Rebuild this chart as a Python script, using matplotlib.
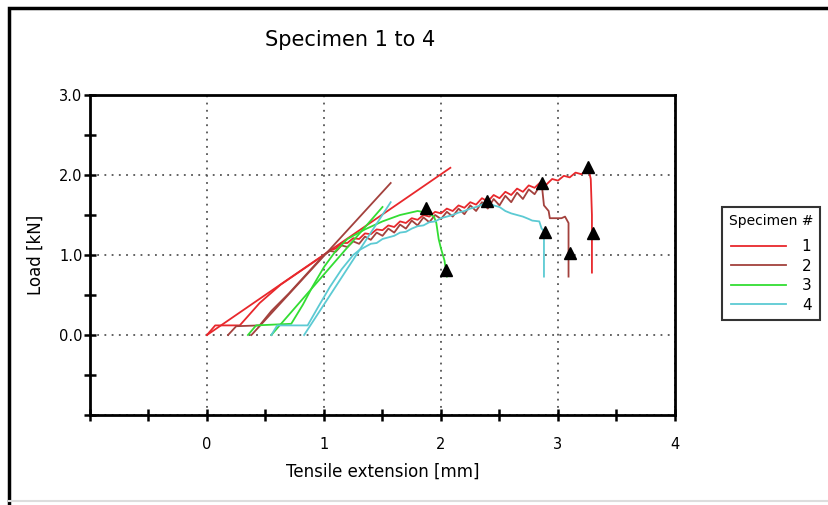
import matplotlib
matplotlib.use("Agg")
import matplotlib.pyplot as plt
from matplotlib.patches import Rectangle
from matplotlib.lines import Line2D

# ---------------- data ----------------
title = "Specimen 1 to 4"
xlabel = "Tensile extension [mm]"
ylabel = "Load [kN]"
legend_title = "Specimen #"
labels = ["1", "2", "3", "4"]
colors = ["#e8282c", "#a3413d", "#33dd33", "#5ccad3"]

x_ticklabels = ["0", "1", "2", "3", "4"]
y_ticklabels = ["0.0", "1.0", "2.0", "3.0"]

# Specimen 1 (red)
s1_x = [0.00, 0.07, 0.28, 0.45, 0.63, 0.80, 0.90, 1.00,
        1.05, 1.10, 1.15, 1.20, 1.25, 1.30, 1.35, 1.40, 1.45, 1.50, 1.55, 1.60, 1.65, 1.70,
        1.75, 1.80, 1.85, 1.90, 1.95, 2.00, 2.05, 2.10, 2.15, 2.20, 2.25, 2.30, 2.35, 2.40,
        2.45, 2.50, 2.55, 2.60, 2.65, 2.70, 2.75, 2.80, 2.85, 2.90, 2.95, 3.00, 3.05, 3.10,
        3.15, 3.20, 3.26, 3.28, 3.29, 3.29]
s1_y = [0.00, 0.12, 0.12, 0.40, 0.63, 0.80, 0.90, 1.00,
        1.06, 1.08, 1.15, 1.15, 1.21, 1.20, 1.27, 1.26, 1.32, 1.31, 1.37, 1.35, 1.42, 1.40,
        1.46, 1.44, 1.50, 1.48, 1.54, 1.52, 1.58, 1.55, 1.62, 1.59, 1.66, 1.63, 1.71, 1.67,
        1.75, 1.71, 1.79, 1.75, 1.83, 1.79, 1.87, 1.84, 1.91, 1.88, 1.95, 1.93, 1.99, 1.97,
        2.03, 2.01, 2.08, 1.95, 1.50, 0.78]
s1_fit_x = [0.00, 2.08]
s1_fit_y = [0.00, 2.09]

# Specimen 2 (dark red)
s2_x = [0.18, 0.25, 0.45, 0.55, 0.70, 0.85, 0.95, 1.00,
        1.05, 1.10, 1.15, 1.20, 1.25, 1.30, 1.35, 1.40, 1.45, 1.50, 1.55, 1.60, 1.65, 1.70,
        1.75, 1.80, 1.85, 1.90, 1.95, 2.00, 2.05, 2.10, 2.15, 2.20, 2.25, 2.30, 2.35, 2.40,
        2.45, 2.50, 2.55, 2.60, 2.65, 2.70, 2.75, 2.80, 2.86, 2.88, 2.92, 2.93, 3.03, 3.06,
        3.09, 3.09]
s2_y = [0.00, 0.11, 0.12, 0.30, 0.52, 0.76, 0.92, 1.00,
        1.05, 1.04, 1.12, 1.10, 1.17, 1.14, 1.23, 1.19, 1.28, 1.24, 1.33, 1.28, 1.38, 1.33,
        1.43, 1.37, 1.47, 1.41, 1.50, 1.45, 1.54, 1.48, 1.58, 1.51, 1.62, 1.55, 1.66, 1.58,
        1.70, 1.62, 1.74, 1.66, 1.78, 1.70, 1.82, 1.76, 1.90, 1.62, 1.55, 1.46, 1.46, 1.48,
        1.40, 0.73]
s2_fit_x = [0.38, 1.57]
s2_fit_y = [0.00, 1.90]

# Specimen 3 (green)
s3_x = [0.35, 0.42, 0.72, 0.82, 0.90, 1.00, 1.10, 1.20, 1.35, 1.50, 1.65, 1.80, 1.88,
        1.94, 1.96, 1.98, 2.00, 2.03, 2.05]
s3_y = [0.00, 0.12, 0.14, 0.38, 0.60, 0.85, 1.05, 1.20, 1.32, 1.42, 1.50, 1.55, 1.53,
        1.48, 1.40, 1.20, 1.08, 0.93, 0.73]
s3_fit_x = [0.55, 1.50]
s3_fit_y = [0.00, 1.60]

# Specimen 4 (cyan)
s4_x = [0.55, 0.60, 0.86, 0.95, 1.05, 1.15, 1.25, 1.30, 1.35, 1.40, 1.45, 1.50, 1.55,
        1.60, 1.65, 1.70, 1.75, 1.80, 1.85, 1.90, 1.95, 2.00, 2.05, 2.10, 2.15, 2.20,
        2.25, 2.30, 2.35, 2.39, 2.45, 2.50, 2.55, 2.60, 2.65, 2.70, 2.75, 2.78, 2.84,
        2.86, 2.88, 2.88]
s4_y = [0.00, 0.12, 0.12, 0.35, 0.60, 0.82, 1.00, 1.06, 1.10, 1.14, 1.15, 1.20, 1.22,
        1.24, 1.28, 1.29, 1.33, 1.36, 1.37, 1.41, 1.42, 1.46, 1.48, 1.50, 1.53, 1.55,
        1.58, 1.60, 1.63, 1.66, 1.62, 1.60, 1.55, 1.52, 1.50, 1.48, 1.45, 1.43, 1.42,
        1.33, 1.30, 0.73]
s4_fit_x = [0.83, 1.57]
s4_fit_y = [0.00, 1.66]

# Event markers (max load and break)
mark_x = [1.875, 2.04, 2.39, 2.86, 2.89, 3.10, 3.26, 3.30]
mark_y = [1.59, 0.81, 1.68, 1.90, 1.29, 1.03, 2.10, 1.28]

# ---------------- figure ----------------
W, H = 829, 505
fig = plt.figure(figsize=(W / 100, H / 100), dpi=100)
fig.patch.set_facecolor("white")

# figure frame
fig.patches.append(Rectangle((9 / W, -0.02), 1.1, 1 - 8 / H + 0.02, transform=fig.transFigure,
                             fill=False, edgecolor="black", linewidth=2.5))
fig.lines.append(Line2D([9 / W, 1], [4 / H, 4 / H], transform=fig.transFigure,
                        color="#dddddd", linewidth=1.5))

ax = fig.add_axes([90 / W, 1 - 415 / H, 585 / W, 320 / H])

series = [
    (s1_x, s1_y, s1_fit_x, s1_fit_y),
    (s2_x, s2_y, s2_fit_x, s2_fit_y),
    (s3_x, s3_y, s3_fit_x, s3_fit_y),
    (s4_x, s4_y, s4_fit_x, s4_fit_y),
]
handles = []
for (x, y, fx, fy), c, lab in zip(series, colors, labels):
    h, = ax.plot(x, y, color=c, lw=1.3, label=lab, zorder=3)
    ax.plot(fx, fy, color=c, lw=1.3, zorder=3)
    handles.append(h)

ax.plot(mark_x, mark_y, linestyle="none", marker="^", color="black", markersize=9, zorder=5)

ax.set_xlim(-1, 4)
ax.set_ylim(-1, 3)
ax.set_xticks([-1, 0, 1, 2, 3, 4])
ax.set_xticklabels([""] + x_ticklabels)
ax.set_xticks([-0.5, 0.5, 1.5, 2.5, 3.5], minor=True)
ax.set_yticks([-1, 0, 1, 2, 3])
ax.set_yticklabels([""] + y_ticklabels)
ax.set_yticks([-0.5, 0.5, 1.5, 2.5], minor=True)
ax.tick_params(which="both", direction="inout", length=9, width=1.8, colors="black",
               labelsize=10.5)
ax.tick_params(axis="x", which="both", pad=11)
ax.tick_params(axis="y", which="both", pad=1)
for s in ax.spines.values():
    s.set_linewidth(2)
ax.grid(True, which="major", linestyle=(0, (1, 3)), color="#555555", linewidth=1.3)
ax.set_axisbelow(True)

ax.set_xlabel(xlabel, fontsize=12, labelpad=8)
ax.set_ylabel(ylabel, fontsize=12, labelpad=10)
fig.text(350 / W, 1 - 40 / H, title, fontsize=15, ha="center", va="center")

leg = fig.legend(handles=handles, labels=labels, title=legend_title,
                 loc="upper left", bbox_to_anchor=(722 / W, 1 - 207 / H),
                 frameon=True, fancybox=False, edgecolor="black", fontsize=11,
                 title_fontsize=10, handlelength=3.6, handletextpad=1.05,
                 labelspacing=0.3, borderpad=0.45, borderaxespad=0)
leg.get_frame().set_linewidth(1.5)
leg._legend_box.sep = 8  # extra gap between the legend title and the entries

fig.savefig("out.png", dpi=100)
